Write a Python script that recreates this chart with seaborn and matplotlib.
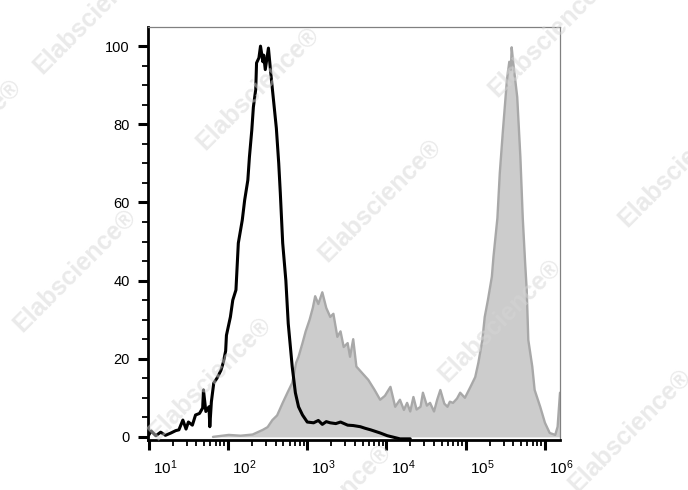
import numpy as np
import matplotlib
matplotlib.use("Agg")
import matplotlib.pyplot as plt
import matplotlib.ticker as mticker
from matplotlib.transforms import ScaledTranslation
import seaborn as sns

# control (black line): log10 of fluorescence, % of max
ctrl_log = [1.00, 1.03, 1.09, 1.15, 1.21, 1.28, 1.34, 1.38, 1.43, 1.47, 1.50, 1.55, 1.59,
            1.64, 1.68, 1.69, 1.72, 1.76, 1.77, 1.79, 1.82, 1.86, 1.91, 1.94, 1.97, 1.98,
            2.03, 2.06, 2.10, 2.13, 2.18, 2.21, 2.25, 2.27, 2.30, 2.32, 2.35, 2.36, 2.39,
            2.41, 2.44, 2.45, 2.47, 2.51, 2.54, 2.57, 2.61, 2.64, 2.66, 2.69, 2.73, 2.76,
            2.81, 2.85, 2.89, 2.94, 3.00, 3.08, 3.14, 3.19, 3.24, 3.29, 3.36, 3.42, 3.51,
            3.58, 3.67, 3.73, 3.80, 3.86, 3.92, 4.01, 4.17, 4.30]
ctrl_pct = [0.5, 1.5, 0.3, 1.2, 0.4, 1.0, 1.6, 1.8, 4.3, 2.0, 3.8, 3.0, 5.6,
            6.0, 7.4, 12.0, 6.5, 7.7, 2.6, 9.0, 13.8, 15.0, 17.0, 19.0, 22.0, 26.0,
            30.7, 35.0, 37.6, 49.6, 55.5, 60.6, 65.7, 71.6, 78.5, 84.4, 89.0, 95.7, 97.0,
            100.0, 96.0, 97.7, 94.0, 99.5, 93.0, 87.0, 79.0, 70.0, 62.4, 49.6, 40.0, 29.0,
            18.0, 11.3, 7.7, 5.6, 3.8, 3.6, 4.2, 3.2, 3.9, 3.6, 3.4, 3.8, 3.0,
            2.9, 2.6, 2.2, 1.8, 1.4, 1.0, 0.3, -0.5, -0.5]

# stained sample (grey filled)
stain_log = [1.81, 2.01, 2.16, 2.31, 2.44, 2.50, 2.56, 2.62, 2.69, 2.75, 2.81, 2.86, 2.89,
             2.94, 2.98, 3.03, 3.07, 3.10, 3.14, 3.19, 3.24, 3.29, 3.33, 3.38, 3.42, 3.46,
             3.51, 3.54, 3.58, 3.62, 3.69, 3.77, 3.85, 3.92, 3.98, 4.05, 4.11, 4.17, 4.22,
             4.26, 4.30, 4.34, 4.38, 4.43, 4.46, 4.51, 4.55, 4.60, 4.64, 4.68, 4.73, 4.77,
             4.80, 4.84, 4.89, 4.93, 4.99, 5.06, 5.12, 5.16, 5.21, 5.24, 5.28, 5.33, 5.35,
             5.40, 5.43, 5.47, 5.52, 5.55, 5.57, 5.58, 5.60, 5.65, 5.69, 5.72, 5.75, 5.77,
             5.79, 5.84, 5.87, 5.94, 6.00, 6.06, 6.13, 6.16, 6.19]
stain_pct = [0.0, 0.5, 0.3, 0.6, 1.8, 2.5, 4.3, 5.5, 8.7, 11.3, 13.8, 19.0, 20.5,
             24.0, 27.0, 30.0, 33.0, 36.0, 34.0, 37.0, 33.0, 30.7, 31.5, 25.6, 27.0, 23.0,
             24.0, 20.5, 25.0, 18.0, 16.4, 14.6, 12.0, 9.5, 10.5, 12.8, 7.7, 9.5, 6.9,
             8.7, 6.5, 10.2, 7.0, 7.7, 11.3, 8.0, 8.7, 6.5, 9.5, 12.0, 8.5, 7.7,
             9.0, 8.7, 9.8, 11.3, 10.0, 12.8, 15.3, 19.0, 24.8, 30.7, 35.0, 41.0, 46.0,
             56.0, 67.5, 78.5, 91.3, 96.0, 94.0, 99.7, 95.7, 87.0, 71.6, 56.0, 44.5, 37.6,
             24.8, 18.0, 12.0, 7.7, 3.6, 1.0, 0.5, 2.6, 11.3]

y_ticks = [0, 20, 40, 60, 80, 100]
x_decades = [1, 2, 3, 4, 5, 6]

sns.set_style("ticks")
plt.rcParams["font.family"] = ["Liberation Sans", "DejaVu Sans"]

fig = plt.figure(figsize=(6.88, 4.9), dpi=100)
ax = fig.add_axes([148 / 688, 50 / 490, 412 / 688, 413 / 490])

sx = 10 ** np.array(stain_log)
ax.fill_between(sx, stain_pct, 0, color="#cccccc", lw=0, zorder=1)
sns.lineplot(x=sx, y=stain_pct, sort=False, color="#a8a8a8", lw=1.7, ax=ax, zorder=2)
sns.lineplot(x=10 ** np.array(ctrl_log), y=ctrl_pct, sort=False, color="black",
             lw=2.2, ax=ax, zorder=3)

ax.set_xscale("log")
ax.set_xlim(10 ** 0.99, 10 ** 6.19)
ax.set_ylim(-0.8, 104.9)
ax.set_xlabel("")
ax.set_ylabel("")

ax.xaxis.set_major_locator(mticker.FixedLocator([10.0 ** d for d in x_decades]))
ax.xaxis.set_minor_locator(mticker.LogLocator(base=10, subs=range(2, 10), numticks=20))
ax.xaxis.set_major_formatter(mticker.LogFormatterSciNotation())
ax.xaxis.set_minor_formatter(mticker.NullFormatter())
ax.yaxis.set_major_locator(mticker.FixedLocator(y_ticks))
ax.yaxis.set_minor_locator(mticker.MultipleLocator(5))

ax.tick_params(which="major", direction="out", length=7, width=2.2, color="black",
               labelcolor="black", labelsize=11, pad=6)
ax.tick_params(which="minor", direction="out", length=4.5, width=1.3, color="black")
ax.tick_params(axis="y", which="major", labelsize=10.5, pad=6)

for side in ["left", "bottom"]:
    ax.spines[side].set_linewidth(2.0)
    ax.spines[side].set_color("black")
for side in ["top", "right"]:
    ax.spines[side].set_linewidth(0.9)
    ax.spines[side].set_color("#808080")

# x labels sit just right of their ticks
shift = ScaledTranslation(3 / 72, 0, fig.dpi_scale_trans)
for lbl in ax.get_xticklabels():
    lbl.set_horizontalalignment("left")
    lbl.set_transform(lbl.get_transform() + shift)

# faint watermark
marks = [(95, 12), (-40, 140), (258, 88), (550, 35), (380, 200), (680, 165),
         (75, 270), (500, 320), (210, 378), (630, 430), (330, 505)]
for px, py in marks:
    fig.text(px / 688, 1 - py / 490, "Elabscience\u00ae", rotation=45, ha="center",
             va="center", fontsize=18, fontweight="bold", color="#d5d5d5", alpha=0.5,
             family=["Liberation Sans", "DejaVu Sans"], zorder=10)

fig.savefig("out.png", dpi=100)
